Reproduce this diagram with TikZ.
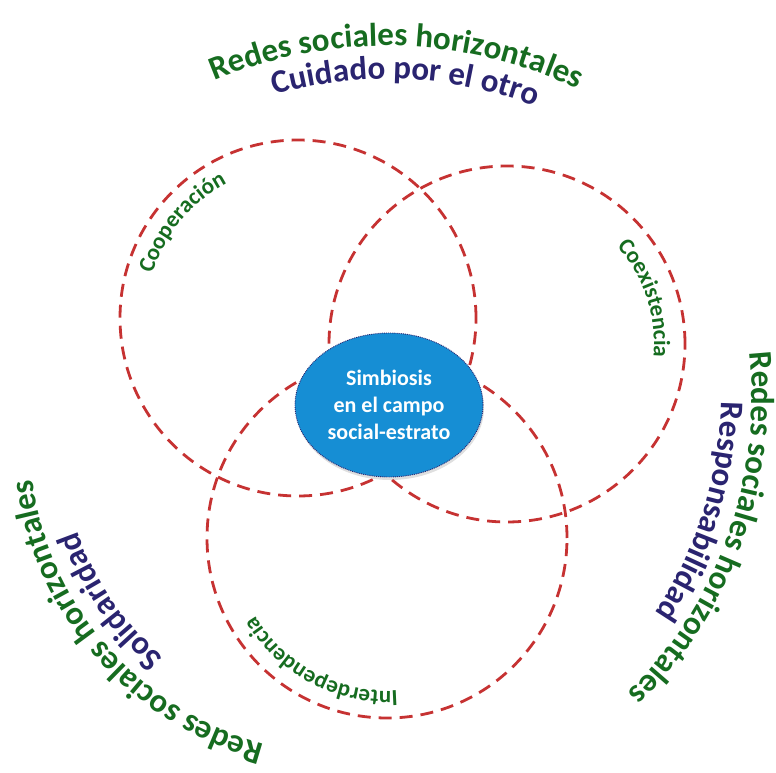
\documentclass[tikz,border=0pt]{standalone}
\usepackage{fontspec}
\setmainfont{Carlito}
\usetikzlibrary{shapes.geometric,decorations.text,shadows}
\definecolor{ringred}{RGB}{198,50,50}
\definecolor{leafgreen}{RGB}{22,108,32}
\definecolor{inkblue}{RGB}{42,36,112}
\definecolor{coreblue}{RGB}{22,142,212}
\newcommand\outergreen{\fontsize{33}{33}\selectfont\bfseries\color{leafgreen}}
\newcommand\outerblue{\fontsize{33}{33}\selectfont\bfseries\color{inkblue}}
\newcommand\ringlabel{\fontsize{23}{23}\selectfont\bfseries\color{leafgreen}}
\tikzset{every node/.style={inner sep=0pt}}
\tikzset{ring/.style={circle,draw=ringred,dash pattern=on 13pt off 8pt,line width=2.8pt,minimum size=356pt}}
\tikzset{core/.style={ellipse,fill=coreblue,draw=inkblue,densely dotted,line width=0.9pt,minimum width=188pt,minimum height=144pt,text=white,align=center,font=\fontsize{22}{27}\selectfont\bfseries}}
\tikzset{arctext/.style={decorate,decoration={text along path,text align=center,text={#1}}}}
\begin{document}
\begin{tikzpicture}[x=1pt,y=1pt]
  \useasboundingbox (0,0) rectangle (776,772);
  % the three rings
  \node[ring] (coop) at (298,454) {};
  \node[ring] (coex) at (507,428) {};
  \node[ring,minimum size=360pt] (inter) at (387,234) {};
  \node[core,drop shadow={opacity=0.25,shadow xshift=1pt,shadow yshift=-3pt}] (sim) at (389,367) {Simbiosis\\en el campo\\social-estrato};
  % labels on the rings
  \path[arctext={|\ringlabel|Cooperación}] ([shift={(200.5:152)}]coop.center) arc[start angle=200.5,end angle=80.5,radius=152];
  \path[arctext={|\ringlabel|Coexistencia}] ([shift={(78.3:147)}]coex.center) arc[start angle=78.3,end angle=-41.7,radius=147];
  \path[arctext={|\ringlabel|Interdependencia}] ([shift={(-57.8:153)}]inter.center) arc[start angle=-57.8,end angle=-177.8,radius=153];
  % outer arcs
  \coordinate (topc) at (387,282);
  \coordinate (rightc) at (337,375);
  \coordinate (leftc) at (346,333);
  \path[arctext={|\outergreen|Redes sociales horizontales}] ([shift={(148.7:444)}]topc) arc[start angle=148.7,end angle=28.7,radius=444];
  \path[arctext={|\outerblue|Cuidado por el otro}] ([shift={(147.4:411)}]topc) arc[start angle=147.4,end angle=27.4,radius=411];
  \path[arctext={|\outergreen|Redes sociales horizontales}] ([shift={(40.3:415)}]rightc) arc[start angle=40.3,end angle=-79.7,radius=415];
  \path[arctext={|\outerblue|Responsabilidad}] ([shift={(42.5:384)}]rightc) arc[start angle=42.5,end angle=-77.5,radius=384];
  \path[arctext={|\outergreen|Redes sociales horizontales}] ([shift={(-78.8:316)}]leftc) arc[start angle=-78.8,end angle=-198.8,radius=316];
  \path[arctext={|\outerblue|Solidaridad}] ([shift={(-85.5:284)}]leftc) arc[start angle=-85.5,end angle=-205.5,radius=284];
\end{tikzpicture}
\end{document}
